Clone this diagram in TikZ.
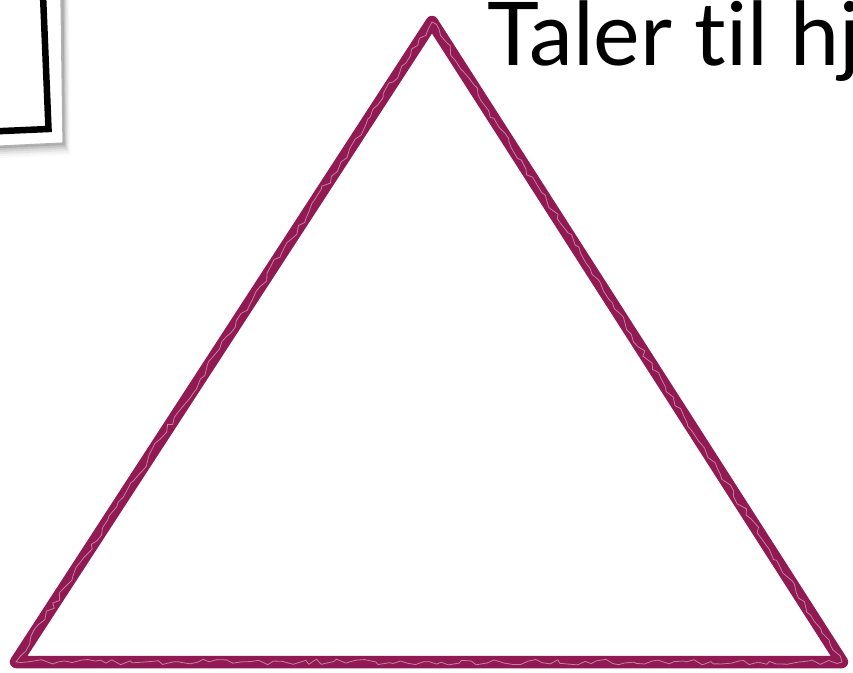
\documentclass[tikz,border=0pt]{standalone}
\usepackage{fontspec}
\setmainfont[Ligatures=NoCommon]{Lato}
\usetikzlibrary{decorations.pathmorphing}
\definecolor{chalk}{RGB}{145,26,82}
\tikzset{
  chalkline/.style={draw=chalk, line width=12.5pt, line join=round, line cap=round},
  chalkrough/.style={draw=chalk, line width=4pt, line join=round, line cap=round,
     decorate, decoration={random steps, segment length=4pt, amplitude=2.5pt}},
  chalkscratch/.style={draw=white, line width=0.8pt, opacity=0.45,
     decorate, decoration={random steps, segment length=7pt, amplitude=3pt}},
  titletext/.style={font=\fontsize{88}{88}\selectfont, text=black, inner sep=0pt, anchor=base west}
}
\begin{document}
\begin{tikzpicture}[x=1pt,y=-1pt]
\useasboundingbox (0,0) rectangle (853,672);
\clip (0,0) rectangle (853,672);
% photo frame corner with shadow
\foreach \o/\a in {1/0.12,3/0.09,5/0.07,7/0.05,9/0.03,11/0.02}{
  \fill[black, opacity=\a] (-20,0) -- (63+\o*0.6,0) -- (64+\o*0.6,144+\o) -- (-20,148+\o) -- cycle;
}
\fill[white] (-20,0) -- (61,0) -- (63,143) -- (-20,147) -- cycle;
\draw[gray!60, line width=1.2pt] (61,0) -- (63,143) -- (-20,147);
\draw[black, line width=6.5pt, line join=miter] (43,-5) -- (48.5,129) -- (-20,132);
% chalk triangle
\coordinate (A) at (432,22);
\coordinate (B) at (16,662);
\coordinate (C) at (842,662);
\path[chalkline] (A) -- (B) -- (C) -- cycle;
\path[chalkrough] (A) -- (B) -- (C) -- cycle;
\path[chalkscratch] (A) -- (B) -- (C) -- cycle;
% title
\node[titletext] (title) at (487,65) {Taler til hj};
\end{tikzpicture}
\end{document}
